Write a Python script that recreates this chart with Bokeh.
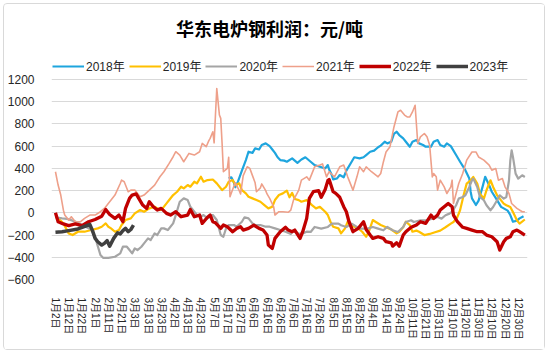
from bokeh.plotting import figure
from bokeh.models import Range1d, FixedTicker, Legend, LegendItem, Label
from bokeh.embed import file_html
from bokeh.resources import INLINE

# ---------------- data (x = category index of the daily axis, y = 元/吨) ----------------
tick_labels = ["1月2日", "1月12日", "1月22日", "2月1日", "2月11日", "2月21日", "3月3日", "3月13日",
               "3月23日", "4月2日", "4月13日", "4月23日", "5月7日", "5月17日", "5月27日", "6月6日",
               "6月16日", "6月26日", "7月6日", "7月16日", "7月26日", "8月5日", "8月15日", "8月25日",
               "9月4日", "9月14日", "9月24日", "10月11日", "10月21日", "10月31日", "11月10日",
               "11月20日", "11月30日", "12月10日", "12月20日", "12月30日"]
tick_pos = [i * 10 for i in range(len(tick_labels))]

x_2018 = [131, 133, 135, 136, 138, 141, 144, 146, 149, 151, 154, 156, 159, 162, 164, 166, 168, 170, 173, 175,
          179, 183, 186, 189, 193, 196, 200, 204, 206, 207, 209, 210, 213, 215, 218, 220, 224, 226, 230, 233,
          235, 238, 241, 244, 246, 249, 251, 254, 256, 258, 260, 263, 265, 268, 270, 273, 275, 278, 280, 284,
          286, 289, 291, 294, 296, 299, 303, 306, 310, 313, 314, 315, 318, 320, 323, 325, 328, 330, 334, 337,
          339, 342, 344, 346, 349, 351, 354]
y_2018 = [310, 320, 270, 230, 280, 380, 475, 550, 540, 580, 570, 610, 625, 600, 570, 540, 500, 475, 470, 460,
          490, 450, 480, 500, 460, 430, 415, 400, 430, 390, 340, 300, 310, 340, 320, 380, 460, 500, 490, 500,
          520, 550, 560, 590, 605, 640, 625, 640, 710, 730, 700, 670, 640, 595, 640, 655, 625, 610, 595, 595,
          640, 655, 610, 595, 625, 600, 520, 460, 384, 309, 190, 130, 70, 110, 234, 324, 249, 190, 114, 54,
          40, 20, -20, -80, -70, -50, -30]

x_2019 = [0, 2, 6, 10, 13, 17, 22, 27, 32, 35, 38, 40, 42, 45, 48, 50, 53, 57, 60, 64,
          67, 71, 75, 79, 81, 84, 86, 89, 92, 95, 97, 100, 102, 105, 107, 110, 112, 115, 119, 122,
          126, 129, 131, 134, 136, 139, 141, 144, 146, 149, 152, 155, 158, 161, 164, 166, 169, 172, 175, 177,
          179, 181, 184, 186, 190, 194, 197, 200, 204, 206, 208, 210, 214, 216, 219, 221, 224, 226, 229, 232,
          235, 237, 240, 242, 246, 250, 254, 258, 260, 263, 265, 268, 270, 273, 275, 279, 283, 287, 291, 295,
          299, 301, 304, 306, 309, 311, 314, 316, 319, 321, 324, 326, 329, 331, 334, 336, 339, 341, 344, 346,
          349, 351, 355]
y_2019 = [-36, -50, -95, -185, -200, -170, -170, -155, -140, -125, -95, -125, -140, -170, -155, -110, -65, -50, -5, 25,
          10, 40, 55, 25, 40, 85, 115, 160, 190, 235, 220, 250, 235, 280, 265, 325, 280, 295, 300, 265,
          205, 235, 280, 295, 250, 265, 205, 175, 145, 130, 115, 100, 70, 40, 55, 115, 160, 175, 200, 140,
          180, 125, 114, 100, 114, 69, 40, 54, 10, -20, -80, -125, -140, -185, -140, -80, -110, -125, -140, -170,
          -215, -170, -65, -80, -110, -130, -150, -185, -170, -130, -80, -110, -170, -160, -170, -200, -190, -175, -160, -130,
          -97, -82, -37, 23, 173, 263, 293, 323, 263, 173, 128, 203, 293, 233, 158, 128, 83, 68, 53, 8,
          -67, -97, -60]

x_2020 = [0, 5, 9, 13, 17, 22, 27, 30, 32, 34, 36, 40, 45, 49, 51, 54, 56, 58, 60, 62,
          65, 67, 70, 72, 75, 77, 80, 82, 85, 89, 91, 94, 97, 100, 102, 105, 107, 110, 112, 115,
          119, 122, 125, 127, 129, 131, 135, 137, 141, 143, 146, 149, 151, 155, 159, 162, 166, 170, 174, 178,
          180, 184, 187, 190, 193, 196, 201, 206, 209, 214, 216, 220, 224, 228, 231, 236, 240, 244, 248, 251,
          255, 259, 263, 265, 269, 271, 276, 281, 285, 289, 292, 295, 298, 300, 303, 305, 308, 310, 313, 315,
          316, 319, 321, 324, 326, 329, 331, 334, 336, 339, 341, 343, 344, 345, 346, 348, 350, 353, 355]
y_2020 = [-40, -50, -55, -70, -90, -120, -150, -220, -300, -380, -405, -405, -395, -365, -305, -305, -335, -365, -320, -335,
          -305, -275, -230, -245, -185, -200, -140, -140, -155, -95, -20, 100, 130, 115, 55, 10, -20, -35, -20, -50,
          -20, -65, -200, -215, -140, -110, -110, -125, -80, -40, -50, -95, -110, -110, -125, -125, -140, -155, -170, -190,
          -155, -190, -185, -170, -172, -127, -142, -127, -97, -97, -112, -127, -97, -127, -142, -142, -127, -142, -157, -127,
          -157, -172, -127, -82, -67, -82, -67, -67, -52, -37, -52, -22, -7, 10, 68, 128, 143, 158, 233, 293,
          308, 233, 143, 113, 68, 23, 53, 113, 158, 128, 143, 293, 473, 563, 503, 353, 308, 338, 323]

x_2021 = [0, 2, 4, 6, 7, 10, 12, 15, 19, 22, 26, 30, 34, 37, 41, 45, 49, 50, 52, 55,
          57, 60, 64, 67, 71, 75, 79, 82, 86, 89, 91, 94, 97, 101, 105, 109, 111, 114, 116, 117,
          119, 120, 121, 122, 124, 125, 126, 127, 130, 131, 132, 134, 136, 139, 140, 142, 145, 147, 149, 151,
          152, 155, 156, 159, 160, 162, 165, 166, 169, 172, 176, 178, 180, 184, 186, 190, 192, 196, 200, 202,
          205, 207, 211, 215, 218, 221, 225, 228, 230, 233, 235, 239, 244, 246, 248, 250, 253, 254, 256, 259,
          261, 264, 266, 268, 270, 272, 274, 276, 279, 281, 283, 285, 286, 288, 289, 291, 294, 296, 299, 300,
          301, 303, 305, 308, 311, 315, 318, 320, 324, 328, 330, 333, 335, 338, 340, 343, 345, 349, 353, 355]
y_2021 = [370, 250, 160, 24, -20, -65, -35, -80, -80, -50, -20, -20, 10, 40, 100, 160, 264, 295, 280, 190,
          204, 205, 145, 160, 205, 250, 325, 370, 445, 505, 550, 520, 460, 535, 520, 550, 625, 595, 650, 670,
          730, 630, 880, 1118, 880, 850, 630, 370, 400, 500, 145, 210, 270, 200, 170, 335, 415, 400, 335, 270,
          190, 225, 260, 200, 170, 130, 55, -20, 10, 10, 5, 25, 114, 204, 294, 324, 294, 414, 430, 440,
          324, 370, 324, 414, 430, 324, 204, 324, 414, 370, 414, 370, 324, 354, 458, 548, 594, 654, 773, 908,
          923, 880, 863, 863, 908, 968, 624, 684, 714, 684, 609, 324, 354, 324, 204, 294, 234, 174, 234, 294,
          84, 174, 264, 354, 474, 548, 548, 503, 474, 429, 384, 399, 294, 309, 234, 174, 84, 40, 10, 10]

x_2022 = [0, 2, 6, 10, 15, 20, 25, 30, 35, 38, 41, 45, 48, 51, 53, 56, 58, 61, 64, 66,
          69, 71, 74, 77, 80, 84, 87, 91, 95, 100, 102, 105, 109, 111, 115, 117, 119, 121, 125, 127,
          130, 134, 137, 140, 142, 146, 150, 154, 157, 160, 161, 164, 166, 170, 174, 176, 179, 181, 185, 187,
          190, 192, 195, 199, 201, 204, 206, 207, 210, 212, 215, 218, 220, 222, 225, 229, 233, 235, 238, 240,
          244, 248, 250, 254, 255, 258, 260, 263, 265, 269, 273, 276, 280, 284, 286, 289, 291, 294, 297, 300,
          301, 304, 308, 311, 315, 319, 323, 326, 330, 334, 336, 339, 341, 344, 346, 349, 351, 355]
y_2022 = [0, -80, -100, -115, -100, -115, -80, -60, -30, 30, -15, -50, -20, -80, 40, 130, 160, 170, 110, 70,
          40, 100, 55, 25, 40, -5, -20, 10, -35, -20, 30, -35, -20, -95, -40, -20, -80, -90, -140, -110,
          -125, -170, -140, -125, -155, -140, -110, -140, -155, -200, -290, -320, -230, -170, -130, -155, -170, -155, -230, -170,
          -50, 130, 190, 200, 140, 210, 290, 300, 190, 175, 140, 55, 10, -80, -170, -140, -80, -150, -200, -230,
          -215, -230, -260, -270, -300, -270, -300, -200, -170, -130, -110, -80, -95, -20, -50, -20, 25, 55, 84, 54,
          -20, -80, -130, -140, -155, -170, -170, -200, -215, -260, -335, -260, -230, -215, -170, -155, -170, -200]

x_2023 = [0, 5, 10, 17, 26, 28, 30, 32, 35, 37, 39, 41, 44, 47, 49, 51, 53, 55, 57, 59]
y_2023 = [-175, -170, -160, -145, -105, -160, -230, -260, -290, -275, -250, -300, -230, -180, -190, -160, -140, -170, -150, -110]

y_ticks = [-600, -400, -200, 0, 200, 400, 600, 800, 1000, 1200]

series = [
    ("2018年", x_2018, y_2018, "#1EA5DE", 2.2),
    ("2019年", x_2019, y_2019, "#FFC000", 2.2),
    ("2020年", x_2020, y_2020, "#A5A5A5", 2.2),
    ("2021年", x_2021, y_2021, "#EEA08A", 1.6),
    ("2022年", x_2022, y_2022, "#C00000", 3.3),
    ("2023年", x_2023, y_2023, "#404040", 3.5),
]

# ---------------- figure ----------------
# The frame reaches up to the top of the canvas (the headroom above 1200 holds title and legend),
# so that those annotations stay inside the drawable area.
p = figure(width=542, height=347, output_backend="svg", toolbar_location=None,
           x_range=Range1d(-3, 357), y_range=Range1d(-600, 1875),
           min_border_left=44, min_border_right=19, min_border_top=0, min_border_bottom=72)
p.styles = {"margin": "3px", "border": "1px solid #D9D9D9", "border-radius": "4px"}
p.outline_line_color = None
p.background_fill_color = "white"
p.border_fill_color = "white"

items = []
for name, xs, ys, color, w in series:
    r = p.line(xs, ys, line_color=color, line_width=w, line_join="round")
    items.append(LegendItem(label=name, renderers=[r]))

p.yaxis.ticker = FixedTicker(ticks=y_ticks)
p.ygrid.ticker = FixedTicker(ticks=y_ticks)
p.ygrid.grid_line_color = "#D9D9D9"
p.ygrid.grid_line_width = 1
p.xgrid.grid_line_color = None

for ax in (p.xaxis[0], p.yaxis[0]):
    ax.axis_line_color = None
    ax.major_tick_line_color = None
    ax.minor_tick_line_color = None
    ax.major_label_text_color = "#262626"

p.yaxis.major_label_text_font = "Liberation Sans"
p.yaxis.major_label_text_font_size = "12px"
p.yaxis.major_label_standoff = 11

p.xaxis.ticker = FixedTicker(ticks=tick_pos)
p.xaxis.major_label_overrides = {t: lab for t, lab in zip(tick_pos, tick_labels)}
p.xaxis.major_label_orientation = "vertical"
p.xaxis.major_label_text_font = "Liberation Sans, Noto Sans CJK SC"
p.xaxis.major_label_text_font_size = "10px"
p.xaxis.major_label_standoff = 12

legend = Legend(items=items, orientation="horizontal", location=(1, 205),
                glyph_width=32, glyph_height=14, label_standoff=2, spacing=4,
                padding=0, margin=0, border_line_color=None, background_fill_alpha=0,
                label_text_font="Liberation Sans, Noto Sans CJK SC", label_text_font_size="12px",
                label_text_color="#262626")
p.add_layout(legend)

title = Label(x=218, y=252, x_units="screen", y_units="screen",
              text="华东电炉钢利润：元/吨", text_align="center", text_baseline="middle",
              text_font="Noto Sans CJK SC", text_font_size="18px", text_font_style="bold",
              text_color="#000000")
p.add_layout(title)

open("out.html", "w").write(file_html(p, INLINE))
